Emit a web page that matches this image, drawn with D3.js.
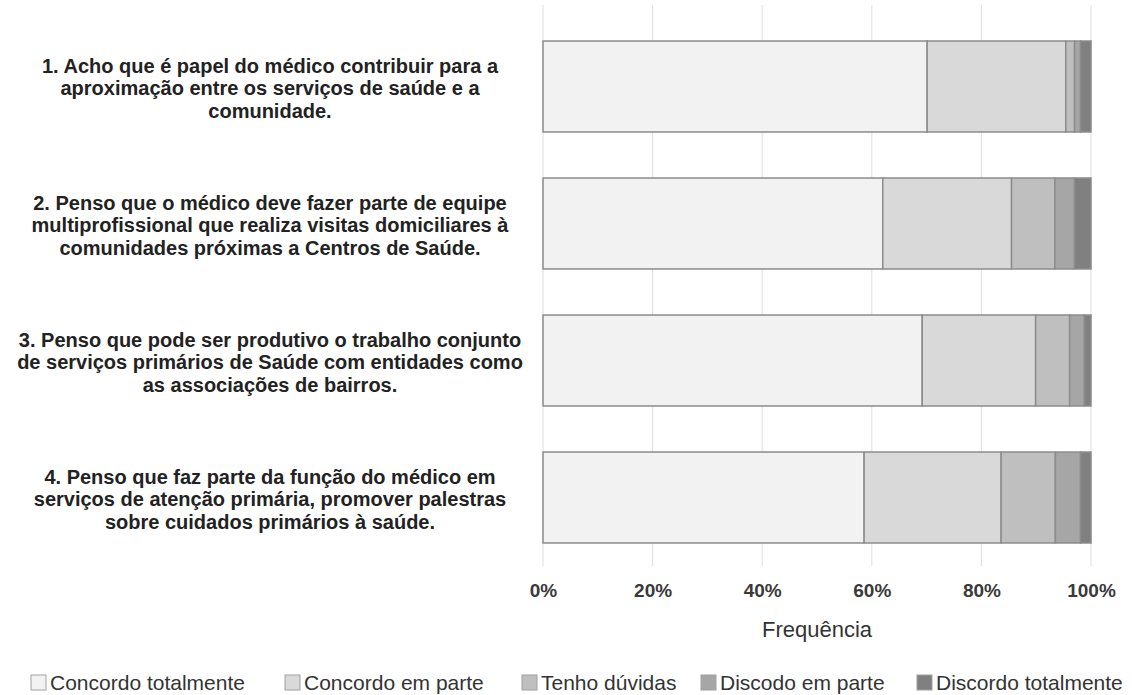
<!DOCTYPE html>
<html>
<head>
<meta charset="utf-8">
<script src="https://cdn.jsdelivr.net/npm/d3@7"></script>
<style>
  body { margin: 0; background: #fff; }
  svg { display: block; font-family: "Liberation Sans", Arial, sans-serif; }
  .itemLabel { font-weight: bold; fill: #222; }
  .tickLabel { font-weight: bold; fill: #3a3a3a; }
</style>
</head>
<body>
<div id="chart"></div>
<script>
    // statements (already broken in lines as in the figure)
    const items = [
        ["1. Acho que é papel do médico contribuir para a", "aproximação entre os serviços de saúde e a", "comunidade."],
        ["2. Penso que o médico deve fazer parte de equipe", "multiprofissional que realiza visitas domiciliares à", "comunidades próximas a Centros de Saúde."],
        ["3. Penso que pode ser produtivo o trabalho conjunto", "de serviços primários de Saúde com entidades como", "as associações de bairros."],
        ["4. Penso que faz parte da função do médico em", "serviços de atenção primária, promover palestras", "sobre cuidados primários à saúde."]
    ];
    const categories = ["Concordo totalmente", "Concordo em parte", "Tenho dúvidas", "Discodo em parte", "Discordo totalmente"];
    // percentages per statement, one array per answer
    const concordoTotal = [70.1, 62.0, 69.2, 58.6];
    const concordoParte = [25.3, 23.5, 20.7, 25.0];
    const tenhoDuvidas  = [1.6, 7.9, 6.2, 9.9];
    const discodoParte  = [1.1, 3.6, 2.7, 4.6];
    const discordoTotal = [1.9, 3.0, 1.2, 1.9];
    const xTicks = [0, 20, 40, 60, 80, 100];
    const colors = ["#f2f2f2", "#d9d9d9", "#bfbfbf", "#a6a6a6", "#808080"];

    const W = 1132, H = 695;
    let svg = d3.select("#chart")
        .append("svg")
        .attr("width", W)
        .attr("height", H);

    let series = [concordoTotal, concordoParte, tenhoDuvidas, discodoParte, discordoTotal];
    let rows = items.map((lines, i) => {
        let r = {id: i};
        categories.forEach((c, j) => r[c] = series[j][i]);
        return r;
    });
    let stacked = d3.stack().keys(categories)(rows);

    let x = d3.scaleLinear()
        .domain([0, 100])
        .range([543, 1091]);

    let y = d3.scaleBand()
        .domain(d3.range(items.length))
        .range([18, 566])
        .paddingInner(0.336)
        .paddingOuter(0.168);

    let color = d3.scaleOrdinal()
        .domain(categories)
        .range(colors);

    // grid lines
    svg.append("g")
        .selectAll("line")
        .data(xTicks)
        .join("line")
        .attr("x1", d => x(d))
        .attr("x2", d => x(d))
        .attr("y1", 5)
        .attr("y2", 566)
        .attr("stroke", "#dedede")
        .attr("stroke-width", 1);

    // bars
    svg.append("g")
        .selectAll("g")
        .data(stacked)
        .join("g")
        .attr("fill", d => color(d.key))
        .selectAll("rect")
        .data(d => d)
        .join("rect")
        .attr("x", d => x(d[0]))
        .attr("y", (d, i) => y(i))
        .attr("width", d => x(d[1]) - x(d[0]))
        .attr("height", y.bandwidth())
        .attr("stroke", "#8c8c8c")
        .attr("stroke-width", 1.5);

    // statement labels
    svg.append("g")
        .selectAll("text")
        .data(items)
        .join("text")
        .attr("class", "itemLabel")
        .attr("text-anchor", "middle")
        .attr("font-size", 20)
        .attr("y", (d, i) => y(i) + y.bandwidth() / 2 + 1.5)
        .each(function(lines){
            d3.select(this).selectAll("tspan")
                .data(lines)
                .join("tspan")
                .attr("x", 270)
                .attr("dy", (l, k) => k === 0 ? ((-(lines.length - 1) / 2) * 22.5 + 7) : 22.5)
                .text(l => l);
        });

    // x axis labels
    svg.append("g")
        .attr("transform", "translate(0, 597)")
        .call(d3.axisBottom(x).tickValues(xTicks).tickSize(0).tickFormat(d => d + "%"))
        .call(g => g.select(".domain").remove())
        .call(g => g.selectAll("text")
            .attr("class", "tickLabel")
            .attr("font-size", 19)
            .attr("font-family", null)
            .attr("dy", 0)
            .attr("y", 0));

    svg.append("text")
        .attr("x", x(50))
        .attr("y", 637)
        .attr("text-anchor", "middle")
        .attr("font-size", 22)
        .attr("fill", "#333")
        .text("Frequência");

    // legend
    const legendX = [31, 285, 522, 701, 917];
    let legend = svg.append("g")
        .selectAll("g")
        .data(categories)
        .join("g")
        .attr("transform", (d, i) => `translate(${legendX[i]}, 675)`);

    legend.append("rect")
        .attr("width", 15)
        .attr("height", 15)
        .attr("fill", d => color(d))
        .attr("stroke", "#a0a0a0")
        .attr("stroke-width", 1);

    legend.append("text")
        .attr("x", 19)
        .attr("y", 15)
        .attr("font-size", 21)
        .attr("fill", "#333")
        .text(d => d);
</script>
</body>
</html>
